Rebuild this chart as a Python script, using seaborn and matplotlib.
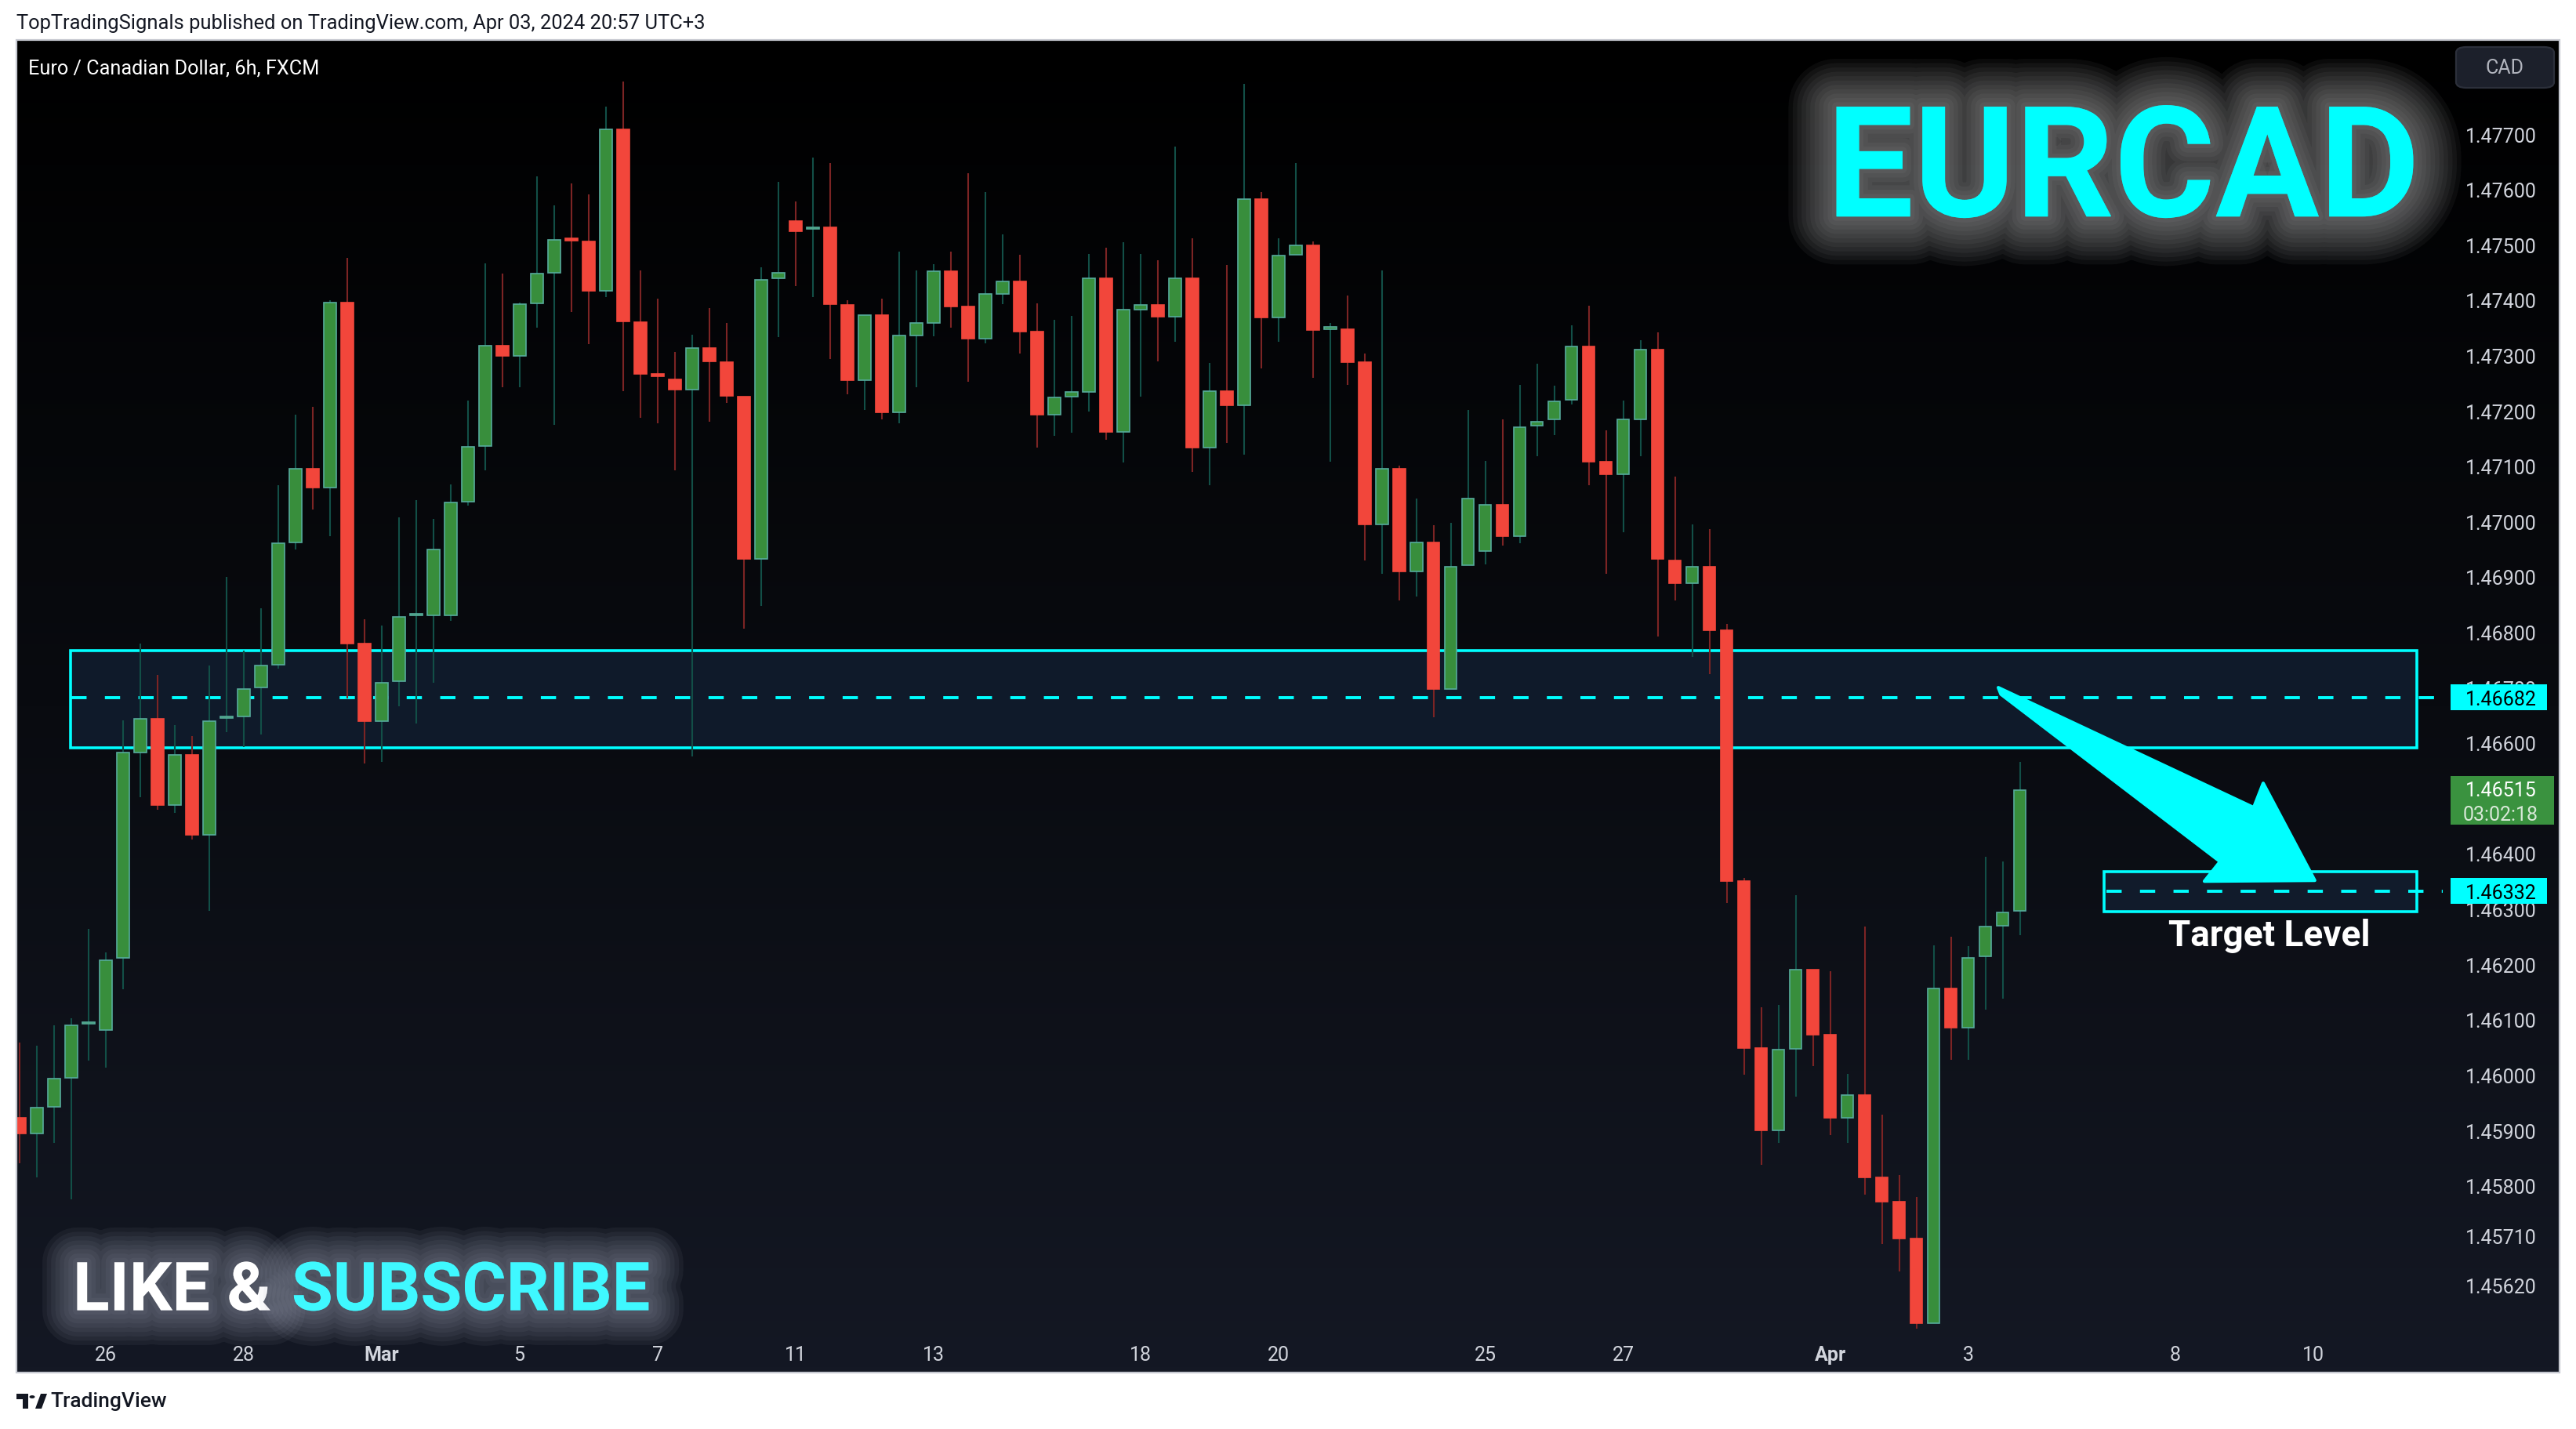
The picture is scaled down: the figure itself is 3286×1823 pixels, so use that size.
import numpy as np
import pandas as pd
import matplotlib
matplotlib.use("Agg")
import matplotlib.pyplot as plt
import matplotlib.patheffects as pe
from matplotlib import transforms, font_manager
from matplotlib.colors import LinearSegmentedColormap
from matplotlib.patches import Rectangle, Polygon, FancyBboxPatch, Circle
import seaborn as sns

W, H, DPI = 3286, 1824, 200

# 6h EURCAD candles, index 0 = first bar of Feb 26
first_idx = -5
opens = [1.45923, 1.45895, 1.45943, 1.45995, 1.46093, 1.46082, 1.46211, 1.46582, 1.46643, 1.46488,
         1.46579, 1.46434, 1.46645, 1.46648, 1.46700, 1.46741, 1.46962, 1.47095, 1.47061, 1.47396,
         1.46780, 1.46640, 1.46711, 1.46830, 1.46830, 1.46830, 1.47036, 1.47136, 1.47317, 1.47299,
         1.47394, 1.47449, 1.47509, 1.47506, 1.47417, 1.47709, 1.47360, 1.47264, 1.47257, 1.47239,
         1.47313, 1.47288, 1.47225, 1.46932, 1.47440, 1.47543, 1.47529, 1.47531, 1.47391, 1.47256,
         1.47373, 1.47198, 1.47336, 1.47359, 1.47452, 1.47388, 1.47331, 1.47411, 1.47434, 1.47343,
         1.47193, 1.47225, 1.47234, 1.47439, 1.47162, 1.47383, 1.47391, 1.47370, 1.47440, 1.47133,
         1.47236, 1.47210, 1.47583, 1.47368, 1.47482, 1.47499, 1.47348, 1.47348, 1.47288, 1.46995,
         1.47095, 1.46910, 1.46962, 1.46698, 1.46921, 1.46946, 1.47030, 1.46973, 1.47173, 1.47184,
         1.47220, 1.47316, 1.47108, 1.47085, 1.47185, 1.47310, 1.46930, 1.46889, 1.46918, 1.46804,
         1.46351, 1.46049, 1.45900, 1.46047, 1.46191, 1.46073, 1.45923, 1.45964, 1.45815, 1.45771,
         1.45705, 1.45552, 1.46156, 1.46085, 1.46214, 1.46270, 1.46296]
highs = [1.46059, 1.46053, 1.46090, 1.46102, 1.46264, 1.46222, 1.46641, 1.46780, 1.46723, 1.46632,
         1.46612, 1.46740, 1.46900, 1.46767, 1.46843, 1.47065, 1.47193, 1.47207, 1.47400, 1.47477,
         1.46823, 1.46812, 1.47007, 1.47038, 1.47004, 1.47067, 1.47219, 1.47466, 1.47448, 1.47396,
         1.47624, 1.47571, 1.47611, 1.47591, 1.47750, 1.47795, 1.47454, 1.47402, 1.47307, 1.47337,
         1.47385, 1.47359, 1.47225, 1.47460, 1.47614, 1.47578, 1.47658, 1.47648, 1.47400, 1.47373,
         1.47403, 1.47488, 1.47454, 1.47465, 1.47488, 1.47629, 1.47595, 1.47519, 1.47482, 1.47394,
         1.47365, 1.47371, 1.47483, 1.47494, 1.47505, 1.47483, 1.47472, 1.47678, 1.47511, 1.47287,
         1.47463, 1.47790, 1.47595, 1.47511, 1.47648, 1.47506, 1.47359, 1.47409, 1.47303, 1.47454,
         1.47101, 1.47041, 1.46993, 1.46998, 1.47201, 1.47110, 1.47185, 1.47247, 1.47285, 1.47245,
         1.47354, 1.47390, 1.47165, 1.47219, 1.47328, 1.47342, 1.47081, 1.46995, 1.46986, 1.46815,
         1.46356, 1.46122, 1.46127, 1.46325, 1.46191, 1.46188, 1.46002, 1.46268, 1.45929, 1.45820,
         1.45780, 1.46234, 1.46250, 1.46233, 1.46394, 1.46386, 1.46566]
lows = [1.45841, 1.45815, 1.45877, 1.45775, 1.46026, 1.46013, 1.46155, 1.46502, 1.46479, 1.46473,
        1.46425, 1.46297, 1.46620, 1.46592, 1.46615, 1.46734, 1.46950, 1.47021, 1.46973, 1.46680,
        1.46563, 1.46566, 1.46666, 1.46635, 1.46708, 1.46820, 1.47029, 1.47093, 1.47242, 1.47242,
        1.47350, 1.47174, 1.47379, 1.47320, 1.47405, 1.47236, 1.47188, 1.47178, 1.47093, 1.46575,
        1.47181, 1.47214, 1.46807, 1.46847, 1.47333, 1.47426, 1.47405, 1.47294, 1.47230, 1.47202,
        1.47185, 1.47178, 1.47242, 1.47334, 1.47350, 1.47253, 1.47322, 1.47393, 1.47303, 1.47133,
        1.47155, 1.47161, 1.47199, 1.47148, 1.47107, 1.47225, 1.47290, 1.47325, 1.47090, 1.47065,
        1.47142, 1.47121, 1.47277, 1.47325, 1.47482, 1.47260, 1.47108, 1.47247, 1.46929, 1.46906,
        1.46857, 1.46864, 1.46646, 1.46698, 1.46921, 1.46922, 1.46956, 1.46961, 1.47118, 1.47156,
        1.47211, 1.47065, 1.46906, 1.46981, 1.47118, 1.46792, 1.46858, 1.46755, 1.46724, 1.46311,
        1.46001, 1.45838, 1.45877, 1.45961, 1.46016, 1.45892, 1.45878, 1.45784, 1.45695, 1.45645,
        1.45542, 1.45552, 1.46027, 1.46027, 1.46118, 1.46138, 1.46253]
closes = [1.45895, 1.45941, 1.45993, 1.46090, 1.46093, 1.46208, 1.46582, 1.46643, 1.46488, 1.46579,
          1.46434, 1.46640, 1.46645, 1.46698, 1.46740, 1.46961, 1.47095, 1.47061, 1.47396, 1.46780,
          1.46640, 1.46709, 1.46827, 1.46830, 1.46949, 1.47035, 1.47135, 1.47317, 1.47299, 1.47393,
          1.47448, 1.47509, 1.47508, 1.47417, 1.47709, 1.47362, 1.47267, 1.47263, 1.47239, 1.47313,
          1.47290, 1.47227, 1.46932, 1.47437, 1.47449, 1.47525, 1.47529, 1.47393, 1.47256, 1.47373,
          1.47198, 1.47336, 1.47359, 1.47452, 1.47388, 1.47331, 1.47411, 1.47434, 1.47343, 1.47193,
          1.47224, 1.47234, 1.47439, 1.47162, 1.47383, 1.47391, 1.47370, 1.47440, 1.47133, 1.47236,
          1.47210, 1.47583, 1.47368, 1.47480, 1.47499, 1.47346, 1.47348, 1.47288, 1.46995, 1.47095,
          1.46910, 1.46962, 1.46698, 1.46919, 1.47042, 1.47030, 1.46973, 1.47171, 1.47181, 1.47217,
          1.47316, 1.47108, 1.47085, 1.47184, 1.47310, 1.46932, 1.46889, 1.46918, 1.46804, 1.46351,
          1.46049, 1.45900, 1.46046, 1.46191, 1.46073, 1.45923, 1.45964, 1.45815, 1.45771, 1.45705,
          1.45552, 1.46156, 1.46085, 1.46211, 1.46268, 1.46294, 1.46515]

date_idx = [0, 8, 16, 24, 32, 40, 48, 60, 68, 80, 88, 100, 108, 120, 128]
date_labels = ["26", "28", "Mar", "5", "7", "11", "13", "18", "20", "25", "27", "Apr", "3", "8", "10"]

# 1.46500 sits fully behind the last-price tag, so it is left out
price_ticks = [1.477, 1.476, 1.475, 1.474, 1.473, 1.472, 1.471, 1.470, 1.469, 1.468, 1.467,
               1.466, 1.464, 1.463, 1.462, 1.461, 1.460, 1.459, 1.458, 1.4571, 1.4562]

zone_low, zone_high, zone_mid = 1.46591, 1.46767, 1.46682
target_low, target_high, target_mid = 1.46295, 1.46367, 1.46332
last_price = 1.46515
countdown = "03:02:18"

CYAN = "#00ffff"
UP, UP_EDGE, UP_WICK = "#388e3c", "#56ab9c", "#124f47"
DOWN, DOWN_WICK = "#f2463b", "#7c2424"

sns.set_theme(style="dark")
plt.rcParams["font.family"] = ["Roboto", "DejaVu Sans"]

installed = {f.name for f in font_manager.fontManager.ttflist}
narrow = "Liberation Sans Narrow" if "Liberation Sans Narrow" in installed else None


def fx(px):
    return px / W


def fy(py):
    return 1 - py / H


fig = plt.figure(figsize=(W / DPI, H / DPI), dpi=DPI, facecolor="white")

# chart pane with vertical gradient
pane_cmap = LinearSegmentedColormap.from_list("pane", ["#000000", "#090b10", "#141824"])
bg = fig.add_axes([fx(21), fy(1752), fx(3244), 1700 / H])
bg.imshow(np.linspace(0, 1, 256)[:, None], aspect="auto", cmap=pane_cmap, extent=[0, 1, 0, 1])
bg.set_axis_off()
fig.add_artist(Rectangle((fx(21), fy(1752)), fx(3244), 1700 / H, transform=fig.transFigure,
                         fill=False, edgecolor="#c5c8d0", linewidth=0.8))

ax = fig.add_axes([fx(21), fy(1705), fx(3116) - fx(21), (1705 - 52) / H])
ax.set_facecolor("none")
for s in ax.spines.values():
    s.set_visible(False)
ax.grid(False)
ax.set_xlim(-5.164, 135.52)
ax.set_ylim(1.45529, 1.47870)

df = pd.DataFrame({"open": opens, "high": highs, "low": lows, "close": closes})
df["idx"] = np.arange(first_idx, first_idx + len(df))
up = df["close"] >= df["open"]
body_lo = df[["open", "close"]].min(axis=1)
body_h = (df["close"] - df["open"]).abs().clip(lower=0.00003)

# zones
ax.add_patch(Rectangle((-2.05, zone_low), 134.0 + 2.05, zone_high - zone_low,
                       facecolor="#0f1a2a", edgecolor=CYAN, linewidth=1.3, zorder=1))
ax.plot([-2.0, 135.6], [zone_mid, zone_mid], color=CYAN, lw=1.4, ls=(0, (5, 6)), zorder=1.5)
ax.add_patch(Rectangle((115.9, target_low), 134.0 - 115.9, target_high - target_low,
                       facecolor="#111b2b", edgecolor=CYAN, linewidth=1.3, zorder=1))
ax.plot([116.0, 135.6], [target_mid, target_mid], color=CYAN, lw=1.4, ls=(0, (5, 6)), zorder=1.5)

# candles
ax.vlines(df["idx"], df["low"], df["high"], colors=np.where(up, UP_WICK, DOWN_WICK),
          linewidth=0.75, zorder=2)
ax.bar(df["idx"], body_h, bottom=body_lo, width=0.72,
       color=np.where(up, UP, DOWN), edgecolor=np.where(up, UP_EDGE, DOWN),
       linewidth=0.6, zorder=3)

# arrow to target
arrow_pts = [(109.75, 1.46700), (124.56, 1.464833), (125.11, 1.465272), (128.10, 1.463516),
             (121.70, 1.463501), (122.61, 1.463856), (109.90, 1.46688)]
ax.add_patch(Polygon(arrow_pts, closed=True, facecolor=CYAN, edgecolor=CYAN,
                     linewidth=1.5, joinstyle="round", zorder=6))

ax.text(125.45, 1.46234, "Target Level", ha="center", va="baseline", fontsize=16.5,
        fontweight="bold", color="white", zorder=7)


def glow(color, widths, alpha):
    return [pe.Stroke(linewidth=w, foreground=color, alpha=alpha, joinstyle="round")
            for w in widths] + [pe.Normal()]


big_font = [narrow] if narrow else ["Roboto"]
ax.text(117.0, 1.47551, "EURCAD", ha="center", va="baseline",
        fontsize=76 if narrow else 71, fontweight="bold", family=big_font, color=CYAN,
        path_effects=glow("#c8c8c8", range(44, 3, -4), 0.055), zorder=7)

like_size = 35 if narrow else 31
like_glow = glow("#a3a9ba", range(32, 3, -4), 0.07)
t_like = ax.text(-1.89, 1.45575, "LIKE &", ha="left", va="baseline", fontsize=like_size,
                 fontweight="bold", family=big_font, color="white",
                 path_effects=like_glow, zorder=7)
renderer = fig.canvas.get_renderer()
bb = t_like.get_window_extent(renderer)
gap = 0.3 * like_size / 72 * DPI
x_sub = ax.transData.inverted().transform((bb.x1 + gap, bb.y0))[0]
ax.text(x_sub, 1.45575, "SUBSCRIBE", ha="left", va="baseline", fontsize=like_size,
        fontweight="bold", family=big_font, color="#3ff8ff",
        path_effects=like_glow, zorder=7)

# axes ticks
ax.yaxis.tick_right()
ax.set_yticks(price_ticks)
ax.set_yticklabels([f"{p:.5f}" for p in price_ticks])
ax.tick_params(axis="y", length=0, pad=10.4, labelsize=9, labelcolor="#d1d4dc",
               labelright=True, labelleft=False)
ax.set_xticks(date_idx)
ax.set_xticklabels(date_labels)
ax.tick_params(axis="x", length=0, pad=4.5, labelsize=9, labelcolor="#d1d4dc")
for lab in ax.get_xticklabels():
    if lab.get_text() in ("Mar", "Apr"):
        lab.set_fontweight("bold")

# price tags on the axis
trans = transforms.blended_transform_factory(ax.transAxes, ax.transData)
tag_x0, tag_tx = 1.00323, 1.00937


def axis_tag(price, text, face, tcolor, width=0.03974, height=33 / 70600):
    ax.add_patch(Rectangle((tag_x0, price - height / 2), width, height, transform=trans,
                           facecolor=face, edgecolor="none", clip_on=False, zorder=10))
    ax.text(tag_tx, price, text, transform=trans, ha="left", va="center_baseline",
            fontsize=9, color=tcolor, clip_on=False, zorder=11)


axis_tag(zone_mid, f"{zone_mid:.5f}", CYAN, "black")
axis_tag(target_mid, f"{target_mid:.5f}", CYAN, "black")
ax.add_patch(Rectangle((tag_x0, 1.46452), 0.04265, 0.00088, transform=trans,
                       facecolor="#3a923f", edgecolor="none", clip_on=False, zorder=10))
ax.text(tag_tx, 1.46518, f"{last_price:.5f}", transform=trans, ha="left",
        va="center_baseline", fontsize=9, color="white", clip_on=False, zorder=11)
ax.text(tag_tx - 0.001, 1.46475, countdown, transform=trans, ha="left",
        va="center_baseline", fontsize=9, color="#d8e8d8", clip_on=False, zorder=11)

# currency button
fig.add_artist(FancyBboxPatch((fx(3133), fy(113)), fx(125), 52 / H,
                              boxstyle="round,pad=0,rounding_size=0.004",
                              transform=fig.transFigure, facecolor="#1c202b",
                              edgecolor="#2c303b", linewidth=0.8))
fig.text(fx(3195), fy(87), "CAD", ha="center", va="center", fontsize=9, color="#b2b5be")

# header / titles
fig.text(fx(21), fy(30), "TopTradingSignals published on TradingView.com, Apr 03, 2024 20:57 UTC+3",
         ha="left", va="center", fontsize=9.2, color="#131722")
fig.text(fx(36), fy(87), "Euro / Canadian Dollar, 6h, FXCM", ha="left", va="center",
         fontsize=9.1, color="white")

# footer logo
logo_t = [(21, 1779), (36, 1779), (36, 1798), (29, 1798), (29, 1786), (21, 1786)]
logo_s = [(45, 1798), (52, 1779), (60, 1779), (53, 1798)]
for pts in (logo_t, logo_s):
    fig.add_artist(Polygon([(fx(x), fy(y)) for x, y in pts], closed=True,
                           transform=fig.transFigure, facecolor="#131722", edgecolor="none"))
fig.add_artist(Circle((fx(41), fy(1783)), 3.5 / W, transform=fig.transFigure,
                      facecolor="#131722", edgecolor="none"))
fig.text(fx(64), fy(1788), "TradingView", ha="left", va="center", fontsize=9.5,
         fontweight="medium", color="#131722")

fig.savefig("out.png", dpi=DPI, facecolor="white")
